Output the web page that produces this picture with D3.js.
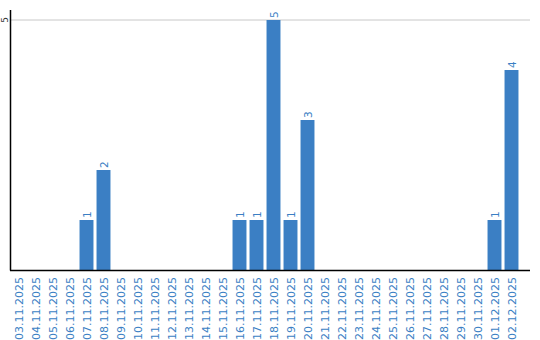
<!DOCTYPE html>
<html><head><meta charset="utf-8">
<script src="https://cdn.jsdelivr.net/npm/d3@7"></script>
<style>body{margin:0;background:#fff}svg{display:block}</style>
</head><body>
<script>
const categories = ["03.11.2025","04.11.2025","05.11.2025","06.11.2025","07.11.2025","08.11.2025","09.11.2025","10.11.2025","11.11.2025","12.11.2025","13.11.2025","14.11.2025","15.11.2025","16.11.2025","17.11.2025","18.11.2025","19.11.2025","20.11.2025","21.11.2025","22.11.2025","23.11.2025","24.11.2025","25.11.2025","26.11.2025","27.11.2025","28.11.2025","29.11.2025","30.11.2025","01.12.2025","02.12.2025"];
const values = [0,0,0,0,1,2,0,0,0,0,0,0,0,1,1,5,1,3,0,0,0,0,0,0,0,0,0,0,1,4];
const yTicks = [5];

const W = 540, H = 340;
const svg = d3.select("body").append("svg").attr("width", W).attr("height", H);
const x = d3.scaleBand().domain(categories).range([10, 520]).paddingInner(0.18).paddingOuter(0.09);
const y = d3.scaleLinear().domain([0, 5.2]).range([270, 10]);
const blue = "#3b7fc4";

svg.append("g").selectAll("line").data(yTicks).join("line")
  .attr("x1", 10).attr("x2", 530).attr("y1", d => y(d)).attr("y2", d => y(d))
  .attr("stroke", "#c8c8c8").attr("stroke-width", 1);

svg.append("g").selectAll("text").data(yTicks).join("text")
  .attr("transform", d => `translate(7.5,${y(d)}) rotate(-90)`)
  .attr("text-anchor", "middle").attr("font-family", "DejaVu Sans, sans-serif")
  .attr("font-size", 9).attr("fill", "#333").text(d => d);

svg.append("g").selectAll("rect").data(values).join("rect")
  .attr("x", (d, i) => x(categories[i])).attr("width", x.bandwidth())
  .attr("y", d => y(d)).attr("height", d => y(0) - y(d)).attr("fill", blue);

svg.append("g").selectAll("text").data(values.map((v, i) => ({v, c: categories[i]})).filter(d => d.v > 0)).join("text")
  .attr("transform", d => `translate(${x(d.c) + x.bandwidth() / 2 + 4},${y(d.v) - 2}) rotate(-90)`)
  .attr("text-anchor", "start").attr("font-family", "DejaVu Sans, sans-serif")
  .attr("font-size", 10.5).attr("fill", blue).text(d => d.v);

svg.append("line").attr("x1", 10.5).attr("x2", 10.5).attr("y1", 10).attr("y2", 270.5).attr("stroke", "#000").attr("stroke-width", 1.5);
svg.append("line").attr("x1", 10).attr("x2", 530).attr("y1", 270.5).attr("y2", 270.5).attr("stroke", "#000").attr("stroke-width", 1.5);

svg.append("g").selectAll("text").data(categories).join("text")
  .attr("transform", d => `translate(${x(d) + x.bandwidth() / 2 + 4},277) rotate(-90)`)
  .attr("text-anchor", "end").attr("font-family", "DejaVu Sans, sans-serif")
  .attr("font-size", 11).attr("fill", blue).text(d => d);
</script>
</body></html>
